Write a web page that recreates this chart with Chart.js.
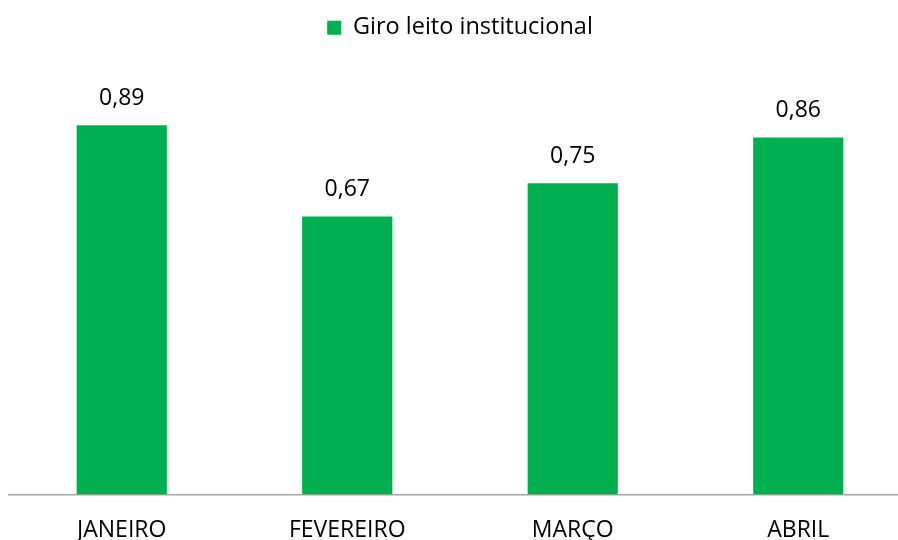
<!DOCTYPE html>
<html>
<head>
<meta charset="utf-8">
<script src="https://cdn.jsdelivr.net/npm/chart.js@4"></script>
<style>
  html, body { margin: 0; padding: 0; background: #fff; overflow: hidden; }
  #wrap { width: 898px; height: 540px; overflow: hidden; }
</style>
</head>
<body>
<div id="wrap"><canvas id="chartGiro" width="912" height="558"></canvas></div>
<script>
// Giro leito institucional por mês
const meses = ['JANEIRO', 'FEVEREIRO', 'MARÇO', 'ABRIL'];
const giroLeito = [0.89, 0.67, 0.75, 0.86];

const FONTE = "'Open Sans', sans-serif";

// Escreve o valor acima de cada barra, com vírgula decimal.
const rotulosValor = {
  id: 'rotulosValor',
  afterDatasetsDraw(chart) {
    const ctx = chart.ctx;
    const meta = chart.getDatasetMeta(0);
    ctx.save();
    ctx.font = '23px ' + FONTE;
    ctx.fillStyle = '#000';
    ctx.textAlign = 'center';
    ctx.textBaseline = 'middle';
    meta.data.forEach((bar, i) => {
      const txt = giroLeito[i].toFixed(2).replace('.', ',');
      ctx.fillText(txt, bar.x, bar.y - 27);
    });
    ctx.restore();
  },
};

// Espaço extra entre a legenda e as barras.
const margemLegenda = {
  id: 'margemLegenda',
  beforeInit(chart) {
    const fitOriginal = chart.legend.fit;
    chart.legend.fit = function fit() {
      fitOriginal.bind(chart.legend)();
      this.height += 30;
    };
  },
};

new Chart(document.getElementById('chartGiro').getContext('2d'), {
  type: 'bar',
  data: {
    labels: meses,
    datasets: [{
      label: 'Giro leito institucional',
      data: giroLeito,
      backgroundColor: '#00B050',
      borderWidth: 0,
      categoryPercentage: 1,
      barPercentage: 0.4,
    }],
  },
  options: {
    responsive: false,
    animation: false,
    layout: { padding: { left: 9, right: 1, top: 6, bottom: 0 } },
    plugins: {
      tooltip: { enabled: false },
      legend: {
        position: 'top',
        labels: {
          color: '#000',
          font: { family: FONTE, size: 23.5 },
          boxWidth: 14,
          boxHeight: 14,
          padding: 10,
        },
      },
    },
    scales: {
      x: {
        grid: { display: false },
        border: { display: true, color: '#A6A6A6', width: 1.5 },
        ticks: { color: '#000', font: { family: FONTE, size: 23 }, padding: 14 },
      },
      y: {
        display: false,
        min: 0,
        max: 1,
      },
    },
  },
  plugins: [rotulosValor, margemLegenda],
});
</script>
</body>
</html>
